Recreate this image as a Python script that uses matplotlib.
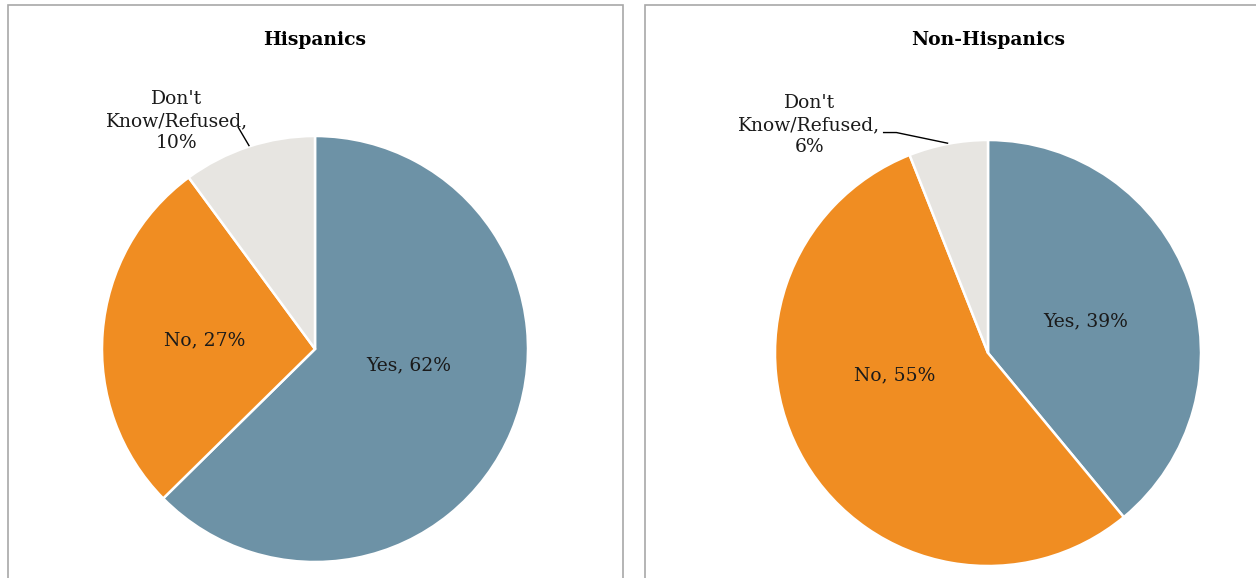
import matplotlib.pyplot as plt
from matplotlib.patches import Rectangle

# data
groups = ["Hispanics", "Non-Hispanics"]
categories = ["Yes", "No", "Don't\nKnow/Refused,"]
hispanic_vals = [62, 27, 10]
nonhispanic_vals = [39, 55, 6]
colors = ["#6d92a6", "#f08d22", "#e7e5e1"]

W, H = 1256, 578
fig = plt.figure(figsize=(W / 100, H / 100), dpi=100)
fig.patch.set_facecolor("white")
plt.rcParams["font.family"] = ["DejaVu Serif"]

# panel frames (pixels: x0, x1)
for x0, x1 in [(8, 623), (645, 1262)]:
    fig.patches.append(Rectangle((x0 / W, -0.1), (x1 - x0) / W, (H - 5) / H + 0.1,
                                 transform=fig.transFigure, fill=False,
                                 edgecolor="#a8a8a8", linewidth=1.2))


def pie_axes(cx, cy, r):
    return fig.add_axes([(cx - r) / W, (H - cy - r) / H, 2 * r / W, 2 * r / H])


def label_text(cat, v):
    if cat.startswith("Don't"):
        return cat + "\n%d%%" % v
    return "%s, %d%%" % (cat, v)


# label layout in axes-data units (radius 1)
layouts = [
    [(0.44, -0.075), (-0.52, 0.04), (-0.65, 1.07)],
    [(0.46, 0.15), (-0.44, -0.105), (-0.84, 1.07)],
]
leaders = [
    [(-0.36, 1.04), (-0.31, 0.955)],
    [(-0.49, 1.035), (-0.43, 1.035), (-0.19, 0.985)],
]

centers = [(315, 349), (988, 353)]
for gi, vals in enumerate([hispanic_vals, nonhispanic_vals]):
    cx, cy = centers[gi]
    ax = pie_axes(cx, cy, 213)
    ax.pie(vals, colors=colors, startangle=90, counterclock=False,
           wedgeprops=dict(edgecolor="white", linewidth=1.8), radius=1)
    ax.set_xlim(-1, 1)
    ax.set_ylim(-1, 1)
    ax.set_aspect("equal")
    ax.axis("off")
    for (tx, ty), cat, v in zip(layouts[gi], categories, vals):
        ax.text(tx, ty, label_text(cat, v), ha="center", va="center",
                fontsize=13.5, color="#1a1a1a", linespacing=1.3)
    lx, ly = zip(*leaders[gi])
    ax.plot(lx, ly, color="black", linewidth=1, clip_on=False)
    fig.text(cx / W, 1 - 40 / H, groups[gi], ha="center", va="center",
             fontsize=13.5, fontweight="bold", color="black")

fig.savefig("out.png", dpi=100)
